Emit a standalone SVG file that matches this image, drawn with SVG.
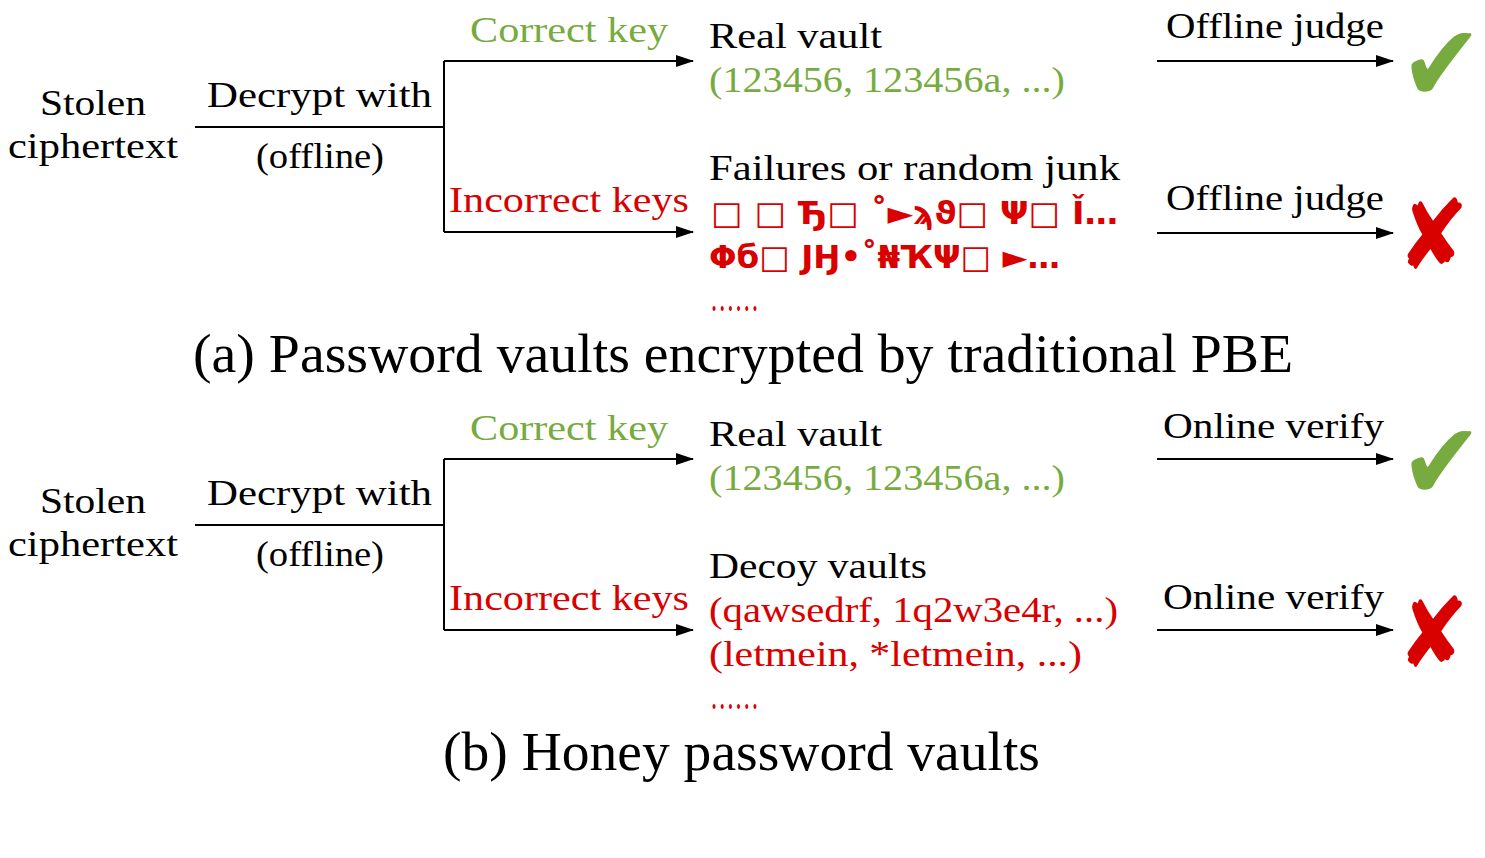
<svg xmlns="http://www.w3.org/2000/svg" width="1485" height="858" viewBox="0 0 1485 858">
<defs>
<style>
.t{font-family:"Liberation Serif","Times New Roman",serif;font-size:36px;fill:#000}
.g{fill:#77ab40}
.r{fill:#d90000}
.junk{font-family:"DejaVu Sans","Noto Sans",sans-serif;font-weight:bold;font-size:32px;fill:#d90000}
.cap{font-family:"Liberation Serif","Times New Roman",serif;font-size:54px;fill:#000}
.ln{stroke:#000;stroke-width:2;fill:none}
.mk{font-family:"DejaVu Sans","Noto Sans",sans-serif;font-size:86px}
.dots{font-family:"Liberation Serif","Times New Roman",serif;font-size:42px;fill:#d90000}
</style>
<marker id="ah" markerUnits="userSpaceOnUse" markerWidth="18" markerHeight="12" refX="17" refY="6" orient="auto">
<path d="M0,0 L18,6 L0,12 z" fill="#000"/>
</marker>
</defs>
<rect width="1485" height="858" fill="#fff"/>

<g id="connectors">
<line class="ln" x1="195" y1="127" x2="444" y2="127"/>
<line class="ln" x1="444" y1="61" x2="444" y2="232"/>
<line class="ln" x1="444" y1="61" x2="693" y2="61" marker-end="url(#ah)"/>
<line class="ln" x1="444" y1="232" x2="693" y2="232" marker-end="url(#ah)"/>
<line class="ln" x1="1157" y1="61" x2="1393" y2="61" marker-end="url(#ah)"/>
<line class="ln" x1="1157" y1="233" x2="1393" y2="233" marker-end="url(#ah)"/>
<line class="ln" x1="195" y1="525" x2="444" y2="525"/>
<line class="ln" x1="444" y1="459" x2="444" y2="630"/>
<line class="ln" x1="444" y1="459" x2="693" y2="459" marker-end="url(#ah)"/>
<line class="ln" x1="444" y1="630" x2="693" y2="630" marker-end="url(#ah)"/>
<line class="ln" x1="1157" y1="459" x2="1393" y2="459" marker-end="url(#ah)"/>
<line class="ln" x1="1157" y1="630" x2="1393" y2="630" marker-end="url(#ah)"/>
</g>

<g id="panel-a">
<g id="a-source">
<text class="t" x="93" y="115" text-anchor="middle" textLength="106" lengthAdjust="spacingAndGlyphs">Stolen</text>
<text class="t" x="93" y="158" text-anchor="middle" textLength="170" lengthAdjust="spacingAndGlyphs">ciphertext</text>
</g>
<g id="a-decrypt">
<text class="t" x="207" y="107" textLength="225" lengthAdjust="spacingAndGlyphs">Decrypt with</text>
<text class="t" x="256" y="168" textLength="128" lengthAdjust="spacingAndGlyphs">(offline)</text>
</g>
<g id="a-correct-key"><text class="t g" x="470" y="42" textLength="198" lengthAdjust="spacingAndGlyphs">Correct key</text></g>
<g id="a-incorrect-keys"><text class="t r" x="449" y="212" textLength="240" lengthAdjust="spacingAndGlyphs">Incorrect keys</text></g>
<g id="a-real-vault">
<text class="t" x="709" y="48" textLength="173" lengthAdjust="spacingAndGlyphs">Real vault</text>
<text class="t g" x="709" y="92" textLength="356" lengthAdjust="spacingAndGlyphs">(123456, 123456a, ...)</text>
</g>
<g id="a-junk">
<text class="t" x="709" y="180" textLength="411" lengthAdjust="spacingAndGlyphs">Failures or random junk</text>
<text class="junk" x="711" y="224" textLength="407" lengthAdjust="spacingAndGlyphs">□ □ Ђ□ ˚►ϡϑ□ Ψ□ Ǐ…</text>
<text class="junk" x="709" y="268" textLength="351" lengthAdjust="spacingAndGlyphs">Φб□ ЈӇ•˚₦ҠΨ□ ►…</text>
<text class="dots" x="710" y="311" textLength="49" lengthAdjust="spacingAndGlyphs">……</text>
</g>
<g id="a-judge-top"><text class="t" x="1166" y="38" textLength="218" lengthAdjust="spacingAndGlyphs">Offline judge</text></g>
<g id="a-judge-bottom"><text class="t" x="1166" y="210" textLength="218" lengthAdjust="spacingAndGlyphs">Offline judge</text></g>
<g id="a-check"><text class="mk g" transform="translate(1400,101) scale(1.15,1.256)">✔</text></g>
<g id="a-cross"><text class="mk r" transform="translate(1397,269) scale(1,1.13)">✘</text></g>
<g id="a-caption"><text class="cap" x="193" y="372" textLength="1100" lengthAdjust="spacingAndGlyphs">(a) Password vaults encrypted by traditional PBE</text></g>
</g>

<g id="panel-b">
<g id="b-source">
<text class="t" x="93" y="513" text-anchor="middle" textLength="106" lengthAdjust="spacingAndGlyphs">Stolen</text>
<text class="t" x="93" y="556" text-anchor="middle" textLength="170" lengthAdjust="spacingAndGlyphs">ciphertext</text>
</g>
<g id="b-decrypt">
<text class="t" x="207" y="505" textLength="225" lengthAdjust="spacingAndGlyphs">Decrypt with</text>
<text class="t" x="256" y="566" textLength="128" lengthAdjust="spacingAndGlyphs">(offline)</text>
</g>
<g id="b-correct-key"><text class="t g" x="470" y="440" textLength="198" lengthAdjust="spacingAndGlyphs">Correct key</text></g>
<g id="b-incorrect-keys"><text class="t r" x="449" y="610" textLength="240" lengthAdjust="spacingAndGlyphs">Incorrect keys</text></g>
<g id="b-real-vault">
<text class="t" x="709" y="446" textLength="173" lengthAdjust="spacingAndGlyphs">Real vault</text>
<text class="t g" x="709" y="490" textLength="356" lengthAdjust="spacingAndGlyphs">(123456, 123456a, ...)</text>
</g>
<g id="b-decoy">
<text class="t" x="709" y="578" textLength="218" lengthAdjust="spacingAndGlyphs">Decoy vaults</text>
<text class="t r" x="709" y="622" textLength="409" lengthAdjust="spacingAndGlyphs">(qawsedrf, 1q2w3e4r, ...)</text>
<text class="t r" x="709" y="666" textLength="373" lengthAdjust="spacingAndGlyphs">(letmein, *letmein, ...)</text>
<text class="dots" x="710" y="709" textLength="49" lengthAdjust="spacingAndGlyphs">……</text>
</g>
<g id="b-verify-top"><text class="t" x="1163" y="438" textLength="221" lengthAdjust="spacingAndGlyphs">Online verify</text></g>
<g id="b-verify-bottom"><text class="t" x="1163" y="609" textLength="221" lengthAdjust="spacingAndGlyphs">Online verify</text></g>
<g id="b-check"><text class="mk g" transform="translate(1400,499) scale(1.15,1.256)">✔</text></g>
<g id="b-cross"><text class="mk r" transform="translate(1397,667) scale(1,1.13)">✘</text></g>
<g id="b-caption"><text class="cap" x="443" y="770" textLength="597" lengthAdjust="spacingAndGlyphs">(b) Honey password vaults</text></g>
</g>
</svg>
